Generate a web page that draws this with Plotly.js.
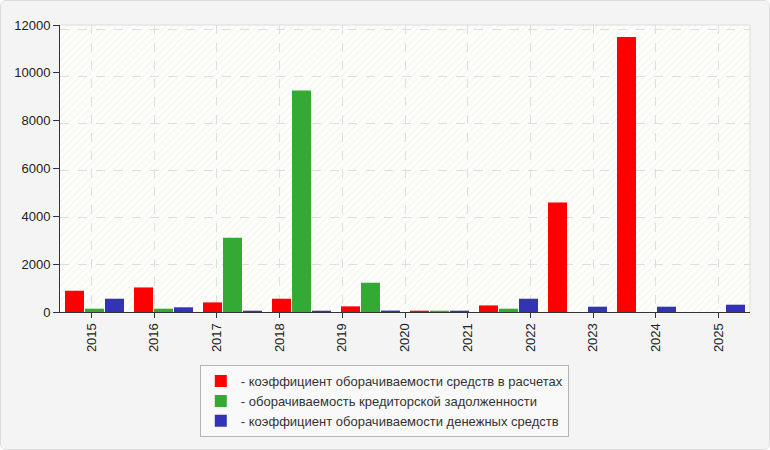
<!DOCTYPE html>
<html>
<head>
<meta charset="utf-8">
<script src="https://cdn.plot.ly/plotly-3.0.1.min.js"></script>
<style>
  html, body { margin: 0; padding: 0; background: #ffffff; }
  #chart {
    width: 768px; height: 448px;
    border: 1px solid #dcdcdc; border-radius: 6px;
    overflow: hidden; background: #f4f4f4;
  }
</style>
</head>
<body>
<div id="chart"></div>
<script>
// bar groups (10 of them) and the year labels on the axis (11 of them)
var barYears = [2015, 2016, 2017, 2018, 2019, 2020, 2021, 2022, 2023, 2024];
var tickYears = [2015, 2016, 2017, 2018, 2019, 2020, 2021, 2022, 2023, 2024, 2025];

var settlementTurnover = [905, 1045, 408, 565, 240, 55, 280, 4660, 11700, 0];
var payablesTurnover = [140, 140, 3160, 9420, 1245, 55, 140, 0, 0, 0];
var cashTurnover = [565, 200, 55, 55, 60, 55, 565, 225, 225, 310];

var seriesNames = [
    '- коэффициент оборачиваемости средств в расчетах',
    '- оборачиваемость кредиторской задолженности',
    '- коэффициент оборачиваемости денежных средств'
];
var seriesColors = ['#ff0000', '#33aa33', '#3333b5'];

function makeBar(values, i) {
    return {
        type: 'bar',
        x: barYears,
        y: values,
        name: seriesNames[i],
        marker: { color: seriesColors[i], line: { width: 0 } },
        xaxis: 'x',
        yaxis: 'y'
    };
}

var data = [
    makeBar(settlementTurnover, 0),
    makeBar(payablesTurnover, 1),
    makeBar(cashTurnover, 2),
    {
        // carries the year labels axis
        type: 'scatter',
        mode: 'markers',
        x: tickYears,
        y: tickYears.map(function () { return 0; }),
        marker: { opacity: 0 },
        hoverinfo: 'skip',
        showlegend: false,
        xaxis: 'x2',
        yaxis: 'y2'
    }
];

// faint diagonal hatch for the plot background
var hatch = '<svg xmlns="http://www.w3.org/2000/svg" width="690" height="288" viewBox="0 0 690 288">' +
    '<defs><pattern id="h" width="5" height="5" patternUnits="userSpaceOnUse" patternTransform="rotate(45)">' +
    '<line x1="0" y1="0" x2="0" y2="5" stroke="#ededea" stroke-width="1.2"/></pattern></defs>' +
    '<rect width="690" height="288" fill="url(#h)"/></svg>';

var tickFont = { family: 'Liberation Sans, Arial, sans-serif', size: 13, color: '#222' };

var layout = {
    width: 768,
    height: 448,
    margin: { l: 59, r: 19, t: 24, b: 137 },
    paper_bgcolor: '#f4f4f4',
    plot_bgcolor: '#fdfdf9',
    barmode: 'group',
    bargap: 0.13,
    bargroupgap: 0.05,
    images: [{
        source: 'data:image/svg+xml;charset=utf-8,' + encodeURIComponent(hatch),
        xref: 'paper', yref: 'paper',
        x: 0, y: 1, sizex: 1, sizey: 1,
        xanchor: 'left', yanchor: 'top',
        sizing: 'stretch',
        layer: 'below'
    }],
    xaxis: {
        range: [2014.5, 2024.5],
        showticklabels: false,
        ticks: '',
        showgrid: false,
        zeroline: false,
        showline: true,
        linecolor: '#333',
        linewidth: 1
    },
    xaxis2: {
        overlaying: 'x',
        anchor: 'y2',
        side: 'bottom',
        range: [2014.5, 2025.5],
        tickvals: tickYears,
        ticktext: tickYears.map(String),
        tickangle: -90,
        ticks: 'outside',
        ticklen: 5,
        tickcolor: '#333',
        tickfont: tickFont,
        showgrid: true,
        gridcolor: '#dedede',
        griddash: 'dash',
        zeroline: false,
        showline: false
    },
    yaxis: {
        range: [0, 12210],
        dtick: 2000,
        showticklabels: false,
        ticks: '',
        showgrid: true,
        gridcolor: '#dedede',
        griddash: 'dash',
        zeroline: false,
        showline: true,
        linecolor: '#333',
        linewidth: 1
    },
    yaxis2: {
        overlaying: 'y',
        anchor: 'x2',
        side: 'left',
        range: [0, 12000],
        dtick: 2000,
        tickformat: 'd',
        ticks: 'outside',
        ticklen: 6,
        tickcolor: '#333',
        tickfont: tickFont,
        showgrid: false,
        zeroline: false,
        showline: false
    },
    shapes: [{
        type: 'line', xref: 'paper', yref: 'paper',
        x0: 0, x1: 1, y0: 1, y1: 1,
        line: { color: '#dddddd', width: 1 }
    }, {
        type: 'line', xref: 'paper', yref: 'paper',
        x0: 1, x1: 1, y0: 0, y1: 1,
        line: { color: '#dddddd', width: 1 }
    }],
    showlegend: true,
    legend: {
        orientation: 'v',
        x: 0.47,
        xanchor: 'center',
        y: -0.185,
        yanchor: 'top',
        bgcolor: '#f9f9f9',
        bordercolor: '#b5b5b5',
        borderwidth: 1,
        font: { family: 'Liberation Sans, Arial, sans-serif', size: 13, color: '#333' },
        traceorder: 'normal',
        itemwidth: 30,
        tracegroupgap: 0
    }
};

Plotly.newPlot('chart', data, layout, { displayModeBar: false, staticPlot: true });
</script>
</body>
</html>
